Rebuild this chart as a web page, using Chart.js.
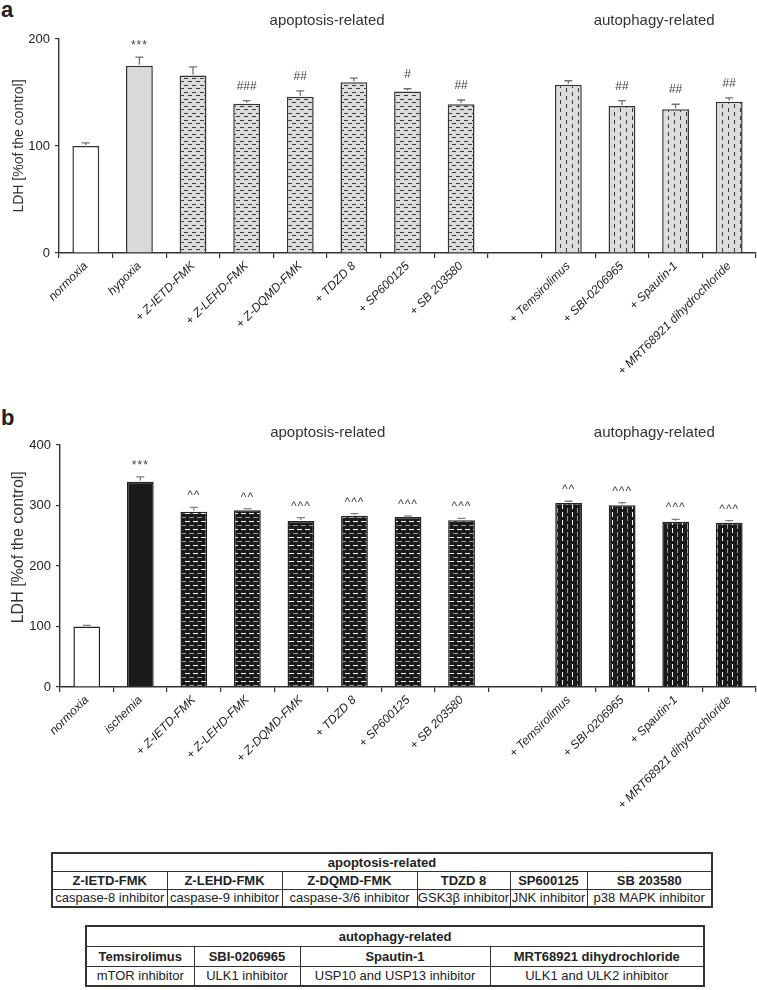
<!DOCTYPE html>
<html><head><meta charset="utf-8">
<script src="https://cdn.jsdelivr.net/npm/chart.js@4.4.1/dist/chart.umd.min.js"></script>
<style>
body{margin:0;background:#fff;}
#wrap{position:relative;width:757px;height:990px;overflow:hidden;font-family:'Liberation Sans',Arial,sans-serif;color:#222;}
canvas{position:absolute;left:0;}
.panel{position:absolute;font-weight:bold;font-size:22px;left:1px;line-height:1;}
table{position:absolute;border-collapse:collapse;font-size:13px;table-layout:fixed;border:2px solid #333;}
td{border:1.5px solid #333;text-align:center;padding:0;white-space:nowrap;overflow:hidden;line-height:1;color:#222;}
td.b{font-weight:bold;}
</style></head>
<body>
<div id="wrap">
  <div class="panel" style="top:-1px">a</div>
  <div class="panel" style="top:407px">b</div>
  <canvas id="ca" width="757" height="390" style="top:0px"></canvas>
  <canvas id="cb" width="757" height="420" style="top:400px"></canvas>
</div>
<script>
// ---------- data ----------
const categoriesA = ['normoxia','hypoxia','+ Z-IETD-FMK','+ Z-LEHD-FMK','+ Z-DQMD-FMK','+ TDZD 8','+ SP600125','+ SB 203580','','+ Temsirolimus','+ SBI-0206965','+ Spautin-1','+ MRT68921 dihydrochloride'];
const valuesA = [100, 175, 166, 139.5, 146, 159.5, 151, 139, null, 157.3, 137.4, 134.3, 141.4];
const errorsA = [3, 8, 8, 3, 5.5, 4, 2.5, 4, null, 3.7, 5, 4.7, 3.5];
const marksA  = ['', '***', '', '###', '##', '', '#', '##', '', '', '##', '##', '##'];

const categoriesB = ['normoxia','ischemia','+ Z-IETD-FMK','+ Z-LEHD-FMK','+ Z-DQMD-FMK','+ TDZD 8','+ SP600125','+ SB 203580','','+ Temsirolimus','+ SBI-0206965','+ Spautin-1','+ MRT68921 dihydrochloride'];
const valuesB = [100, 339.3, 289.8, 292, 274.4, 283.2, 281, 275.5, null, 304, 300.3, 273.3, 271.6];
const errorsB = [2, 8, 7, 2.7, 5.5, 3.3, 2, 3.3, null, 3, 4.4, 3.9, 3.3];
const marksB  = ['', '***', '^^', '^^', '^^^', '^^^', '^^^', '^^^', '', '^^', '^^^', '^^^', '^^^'];

const groupOf = ['ctrl','model','apo','apo','apo','apo','apo','apo','gap','auto','auto','auto','auto'];
const groupLabels = ['apoptosis-related','autophagy-related'];
const yTicksA = [0, 100, 200];
const yTicksB = [0, 100, 200, 300, 400];
const yTitle = 'LDH [%of the control]';

const apoDrugs = ['Z-IETD-FMK','Z-LEHD-FMK','Z-DQMD-FMK','TDZD 8','SP600125','SB 203580'];
const apoTargets = ['caspase-8 inhibitor','caspase-9 inhibitor','caspase-3/6 inhibitor','GSK3β inhibitor','JNK inhibitor','p38 MAPK inhibitor'];
const autoDrugs = ['Temsirolimus','SBI-0206965','Spautin-1','MRT68921 dihydrochloride'];
const autoTargets = ['mTOR inhibitor','ULK1 inhibitor','USP10 and USP13 inhibitor','ULK1 and ULK2 inhibitor'];

// ---------- styling ----------
const FONT = "'Liberation Sans', Arial, sans-serif";

function makePattern(ctx, w, h, bg, draw){
  const c = document.createElement('canvas'); c.width = w; c.height = h;
  const g = c.getContext('2d'); g.fillStyle = bg; g.fillRect(0,0,w,h); draw(g);
  return ctx.createPattern(c, 'repeat');
}

const extras = {
  id: 'extras',
  afterDatasetsDraw(chart){
    const o = chart.options.plugins.extras;
    const ctx = chart.ctx, xs = chart.scales.x, ys = chart.scales.y;
    const meta = chart.getDatasetMeta(0);
    ctx.save();
    meta.data.forEach((bar, i) => {
      const v = o.values[i], e = o.errors[i];
      if (v == null) return;
      const yTop = ys.getPixelForValue(v + e);
      ctx.strokeStyle = o.errColor; ctx.lineWidth = 1.3;
      ctx.beginPath();
      ctx.moveTo(bar.x, bar.y - 1); ctx.lineTo(bar.x, yTop);
      ctx.moveTo(bar.x - 4, yTop); ctx.lineTo(bar.x + 4, yTop);
      ctx.stroke();
      const m = o.marks[i];
      if (m) {
        ctx.fillStyle = '#444';
        ctx.font = `12px ${FONT}`;
        ctx.textAlign = 'center'; ctx.textBaseline = 'alphabetic';
        try { ctx.letterSpacing = m[0] === '#' ? '0px' : '1px'; } catch(err) {}
        const off = m[0] === '#' ? 11 : 8;
        ctx.fillText(m, bar.x, yTop - off);
        try { ctx.letterSpacing = '0px'; } catch(err) {}
      }
    });
    ctx.font = `15px ${FONT}`; ctx.fillStyle = '#333';
    ctx.textAlign = 'center'; ctx.textBaseline = 'middle';
    o.groups.forEach((g, k) => ctx.fillText(g, xs.getPixelForValue(o.groupPos[k]), o.groupY));
    ctx.save();
    ctx.translate(o.titleX, ys.getPixelForValue(o.titleAt));
    ctx.rotate(-Math.PI/2);
    ctx.font = `${o.titleSize}px ${FONT}`; ctx.fillStyle = '#333';
    ctx.fillText(yTitle, 0, 0);
    ctx.restore();
    ctx.restore();
  }
};

function buildChart(id, cats, vals, errs, marks, ticks, cfg){
  const canvas = document.getElementById(id);
  const ctx = canvas.getContext('2d');
  const fills = groupOf.map(g => cfg.fill[g](ctx));
  new Chart(canvas, {
    type: 'bar',
    data: { labels: cats, datasets: [{
      data: vals,
      backgroundColor: fills,
      borderColor: cfg.border,
      borderWidth: 1.5,
      borderSkipped: 'bottom',
      barPercentage: 0.5,
      categoryPercentage: 1.0
    }]},
    options: {
      responsive: false, animation: false,
      events: [],
      layout: { padding: { top: cfg.top, right: 1, left: 0, bottom: 0 } },
      plugins: {
        legend: { display: false }, tooltip: { enabled: false },
        extras: { values: vals, errors: errs, marks: marks, errColor: cfg.errColor,
                  groups: groupLabels, groupPos: [4.5, 10.6], groupY: cfg.groupY,
                  titleX: 19, titleAt: cfg.titleAt, titleSize: cfg.titleSize }
      },
      scales: {
        x: {
          afterFit: s => { s.height = cfg.xh; },
          grid: { display: true, drawOnChartArea: false, drawTicks: true, tickLength: 5, offset: true, color: '#333', lineWidth: 1.2 },
          border: { display: true, color: '#333', width: 1.4 },
          ticks: { autoSkip: false, maxRotation: 45, minRotation: 45, padding: 1, color: '#222',
                   font: { family: FONT, size: 12, style: 'italic' } }
        },
        y: {
          min: ticks[0], max: ticks[ticks.length - 1],
          afterFit: s => { s.width = cfg.yw; },
          afterBuildTicks: s => { s.ticks = ticks.map(v => ({ value: v })); },
          grid: { display: true, drawOnChartArea: false, drawTicks: true, tickLength: 4, color: '#333', lineWidth: 1.2 },
          border: { display: true, color: '#333', width: 1.4 },
          ticks: { padding: 5, color: '#222', font: { family: FONT, size: 13 } }
        }
      }
    },
    plugins: [extras]
  });
}

buildChart('ca', categoriesA, valuesA, errorsA, marksA, yTicksA, {
  top: 39, xh: 137, yw: 59, groupY: 21, titleAt: 100, titleSize: 14, errColor: '#707070', border: '#333',
  fill: {
    ctrl: () => '#ffffff',
    model: () => '#d9d9d9',
    gap: () => 'rgba(0,0,0,0)',
    apo: ctx => makePattern(ctx, 8, 7, '#dcdcdc', g => { g.fillStyle = '#3a3a3a'; g.fillRect(0,1,4,1); g.fillRect(4,4,4,1); }),
    auto: ctx => makePattern(ctx, 12, 8, '#dcdcdc', g => { g.fillStyle = '#3a3a3a'; g.fillRect(2,0,1,4); g.fillRect(8,4,1,4); })
  }
});

buildChart('cb', categoriesB, valuesB, errorsB, marksB, yTicksB, {
  top: 45, xh: 133, yw: 60, groupY: 33, titleAt: 231, titleSize: 16, errColor: '#808080', border: '#222',
  fill: {
    ctrl: () => '#ffffff',
    model: () => '#1a1a1a',
    gap: () => 'rgba(0,0,0,0)',
    apo: ctx => makePattern(ctx, 8, 8, '#1a1a1a', g => {
      g.fillStyle = '#ffffff'; g.fillRect(1,1,5,1);
      g.fillStyle = '#9a9a9a'; g.fillRect(5,5,3,1); g.fillRect(0,5,2,1);
    }),
    auto: ctx => makePattern(ctx, 10, 8, '#1a1a1a', g => {
      g.fillStyle = '#ffffff'; g.fillRect(2,0,1,5);
      g.fillStyle = '#9a9a9a'; g.fillRect(7,4,1,4); g.fillRect(7,0,1,1);
    })
  }
});

// ---------- tables ----------
function buildTable(title, drugs, targets, left, top, widths, rowH){
  const t = document.createElement('table');
  t.style.left = left + 'px'; t.style.top = top + 'px';
  const cg = document.createElement('colgroup');
  widths.forEach(w => { const c = document.createElement('col'); c.style.width = w + 'px'; cg.appendChild(c); });
  t.appendChild(cg);
  const r0 = t.insertRow(); r0.style.height = rowH + 'px';
  const c0 = r0.insertCell(); c0.colSpan = drugs.length; c0.className = 'b'; c0.textContent = title;
  const r1 = t.insertRow(); r1.style.height = rowH + 'px';
  drugs.forEach(d => { const c = r1.insertCell(); c.className = 'b'; c.textContent = d; });
  const r2 = t.insertRow(); r2.style.height = rowH + 'px';
  targets.forEach(d => { const c = r2.insertCell(); c.textContent = d; });
  document.getElementById('wrap').appendChild(t);
}
buildTable(groupLabels[0], apoDrugs, apoTargets, 51, 852, [115,115,135,93,77,125], 18);
buildTable(groupLabels[1], autoDrugs, autoTargets, 85, 925, [108,106,190,214], 20);
</script>
</body></html>
